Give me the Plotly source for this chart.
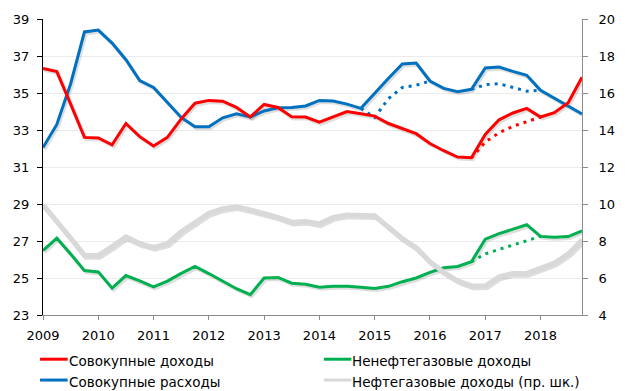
import pandas as pd
import plotly.graph_objects as go

# Quarterly observations, 2009Q1 .. 2018Q4
quarters = pd.period_range("2009Q1", "2018Q4", freq="Q")

# Left axis, % of GDP
total_revenue = [36.33, 36.16, 34.4, 32.6, 32.57, 32.2, 33.35, 32.64, 32.14, 32.6,
                 33.6, 34.45, 34.6, 34.56, 34.22, 33.71, 34.38, 34.22, 33.71, 33.7,
                 33.42, 33.7, 34.0, 33.88, 33.75, 33.35, 33.08, 32.8, 32.27, 31.88,
                 31.54, 31.5, 32.76, 33.55, 33.92, 34.17, 33.7, 33.94, 34.48, 35.85]
total_revenue_alt = [None] * 31 + [31.5, 32.35, 32.85, 33.2, 33.45, 33.7] + [None] * 3

total_spending = [32.05, 33.3, 35.5, 38.3, 38.4, 37.7, 36.8, 35.67, 35.3, 34.47,
                  33.68, 33.18, 33.18, 33.66, 33.87, 33.7, 34.03, 34.2, 34.22, 34.3,
                  34.6, 34.57, 34.4, 34.17, 35.0, 35.8, 36.57, 36.62, 35.65, 35.25,
                  35.07, 35.2, 36.35, 36.4, 36.17, 35.96, 35.15, 34.73, 34.33, 33.87]
total_spending_alt = ([None] * 23 + [34.17, 33.68, 34.7, 35.3, 35.42, 35.65]
                      + [None] * 2 + [35.2, 35.45, 35.5, 35.3, 35.1, 35.15] + [None] * 3)

non_oil_revenue = [26.48, 27.15, 26.3, 25.4, 25.33, 24.45, 25.13, 24.85, 24.52, 24.83,
                   25.25, 25.62, 25.24, 24.83, 24.42, 24.1, 25.0, 25.03, 24.72, 24.66,
                   24.5, 24.55, 24.56, 24.5, 24.43, 24.55, 24.8, 25.0, 25.3, 25.55,
                   25.62, 25.88, 27.1, 27.4, 27.62, 27.88, 27.25, 27.2, 27.24, 27.55]
non_oil_revenue_alt = [None] * 31 + [25.88, 26.3, 26.55, 26.78, 27.0, 27.25] + [None] * 3

# Right axis
oil_gas_revenue = [9.95, 9.1, 8.15, 7.22, 7.22, 7.7, 8.22, 7.86, 7.66, 7.86,
                   8.5, 9.0, 9.5, 9.75, 9.85, 9.68, 9.5, 9.28, 9.02, 9.05,
                   8.93, 9.28, 9.4, 9.38, 9.37, 8.75, 8.13, 7.64, 6.88, 6.3,
                   5.85, 5.57, 5.57, 6.07, 6.25, 6.25, 6.5, 6.8, 7.3, 8.05]

year_ticks = list(range(2009, 2019))
left_range = [23, 39]
right_range = [4, 20]

names = ["Совокупные доходы", "Ненефтегазовые доходы",
         "Совокупные расходы", "Нефтегазовые доходы (пр. шк.)"]
RED, GREEN, BLUE, GRAY = "#FF0000", "#00B050", "#0070C0", "#D9D9D9"

x = [p.year + (p.quarter - 1) / 4 for p in quarters]

W, H = 627, 391
L, R, T, B = 43, 37, 17, 76
plot_w, plot_h = W - L - R, H - T - B

# soft drop shadow under each line, offset a pixel or two down-right
sdx = (x[-1] - x[0]) / plot_w * 1.5
def shadow(vals, rng):
    dy = (rng[1] - rng[0]) / plot_h * 1.8
    return [None if v is None else v - dy for v in vals]
xs = [v + sdx for v in x]
SH = "rgba(0,0,0,0.13)"

fig = go.Figure()

def add(xv, yv, color, width, axis="y", dash="solid"):
    fig.add_trace(go.Scatter(x=xv, y=yv, mode="lines", yaxis=axis,
                             line=dict(color=color, width=width, dash=dash),
                             connectgaps=False, showlegend=False, hoverinfo="skip"))

# shadows
add(xs, shadow(oil_gas_revenue, right_range), SH, 5, "y2")
add(xs, shadow(non_oil_revenue, left_range), SH, 3.5)
add(xs, shadow(total_spending, left_range), SH, 3.5)
add(xs, shadow(total_revenue, left_range), SH, 3.5)

# series
add(x, oil_gas_revenue, GRAY, 5, "y2")
add(x, non_oil_revenue, GREEN, 3)
add(x, non_oil_revenue_alt, GREEN, 3, dash="3px,5px")
add(x, total_spending, BLUE, 3)
add(x, total_spending_alt, BLUE, 3, dash="3px,5px")
add(x, total_revenue, RED, 3)
add(x, total_revenue_alt, RED, 3, dash="3px,5px")

TICK_FONT = dict(family="DejaVu Sans, Arial, sans-serif", size=13, color="#000000")
LEG_FONT = dict(family="DejaVu Sans, Arial, sans-serif", size=13.5, color="#000000")

fig.update_layout(
    width=W, height=H,
    margin=dict(l=L, r=R, t=T, b=B, pad=0),
    paper_bgcolor="white", plot_bgcolor="white",
    font=TICK_FONT,
    showlegend=False,
    xaxis=dict(range=[x[0], x[-1]], tickvals=year_ticks, ticktext=[str(y) for y in year_ticks],
               showgrid=False, zeroline=False, showline=True, linecolor="#8C8C8C", linewidth=1,
               ticks="outside", ticklen=4, tickcolor="#8C8C8C", tickfont=TICK_FONT,
               ticklabelstandoff=4),
    yaxis=dict(range=left_range, tick0=23, dtick=2, showgrid=True, gridcolor="#EBEBEB",
               gridwidth=1, zeroline=False, showline=True, linecolor="#000000", linewidth=1,
               ticks="outside", ticklen=5, tickcolor="#000000", tickfont=TICK_FONT,
               ticklabelstandoff=5),
    yaxis2=dict(range=right_range, tick0=4, dtick=2, overlaying="y", side="right",
                showgrid=False, zeroline=False, showline=True, linecolor="#8C8C8C",
                linewidth=1, ticks="outside", ticklen=5, tickcolor="#8C8C8C",
                tickfont=TICK_FONT, ticklabelstandoff=8),
)

# legend drawn as line samples and text below the plot
def px(xp):
    return (xp - L) / plot_w
def py(yp):
    return (H - B - yp) / plot_h

legend_items = [(names[0], RED, 40, 359.5), (names[1], GREEN, 328, 359.5),
                (names[2], BLUE, 40, 380.5), (names[3], GRAY, 328, 380.5)]
for label, color, lx, ly in legend_items:
    fig.add_shape(type="line", xref="paper", yref="paper",
                  x0=px(lx), x1=px(lx + 28), y0=py(ly), y1=py(ly),
                  line=dict(color=color, width=3))
    fig.add_annotation(xref="paper", yref="paper", x=px(lx + 28), y=py(ly + 1.5),
                       xanchor="left", yanchor="middle", text=label, showarrow=False,
                       font=LEG_FONT, borderpad=0)

fig.write_html("out.html")
